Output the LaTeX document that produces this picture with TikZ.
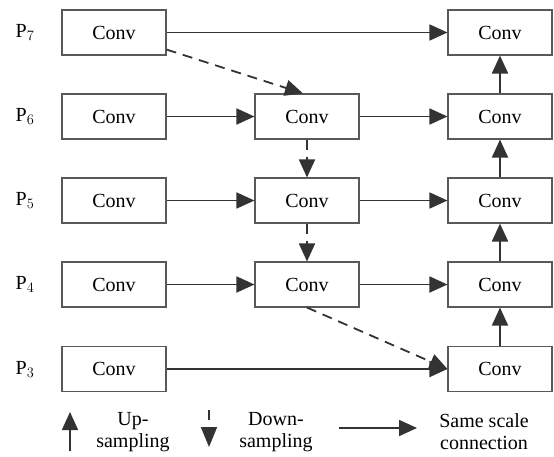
\documentclass[tikz,border=0pt]{standalone}
\usepackage{fontspec}
\setmainfont{Liberation Serif}
\usetikzlibrary{arrows.meta,calc}
\begin{document}
\begin{tikzpicture}[x=1pt,y=-1pt,
  convbox/.style={draw=black!65, line width=1.1pt, minimum width=104pt, minimum height=45pt,
    inner sep=0pt, font=\fontsize{20}{24}\selectfont},
  lvl/.style={font=\fontsize{20}{24}\selectfont, inner sep=0pt},
  flow/.style={line width=1.8pt, draw=black!80, -{Triangle[length=18pt,width=16pt]}},
  sampdash/.style={flow, dash pattern=on 10pt off 7pt},
  legtext/.style={font=\fontsize{20}{22}\selectfont, align=center, inner sep=0pt}
]
\useasboundingbox (0,0) rectangle (554,456);

% level labels
\foreach \k/\y in {7/32.5, 6/116.5, 5/200.5, 4/284.5, 3/369}
  \node[lvl] (p\k) at (25,\y) {P$_{\k}$};

% input convolutions
\foreach \k/\y in {7/32.5, 6/116.5, 5/200.5, 4/284.5, 3/369}
  \node[convbox] (l\k) at (114,\y) {Conv};

% intermediate convolutions
\foreach \k/\y in {6/116.5, 5/200.5, 4/284.5}
  \node[convbox] (m\k) at (307,\y) {Conv};

% output convolutions
\foreach \k/\y in {7/32.5, 6/116.5, 5/200.5, 4/284.5, 3/369}
  \node[convbox] (r\k) at (500,\y) {Conv};

% same scale connections
\draw[flow] (l7) -- (r7);
\draw[flow] (l3) -- (r3);
\foreach \k in {6,5,4} {
  \draw[flow] (l\k) -- (m\k);
  \draw[flow] (m\k) -- (r\k);
}

% up-sampling path
\draw[flow] (r3) -- (r4);
\draw[flow] (r4) -- (r5);
\draw[flow] (r5) -- (r6);
\draw[flow] (r6) -- (r7);

% down-sampling path
\coordinate (d7) at ([yshift=6pt]l7.south east);
\coordinate (t6) at ([xshift=-4pt]m6.north);
\draw[sampdash] (d7) -- (t6);
\draw[sampdash] (m6) -- (m5);
\draw[sampdash] (m5) -- (m4);
\draw[sampdash] (m4.south) -- (r3.west);

% legend
\coordinate (ua) at (70,451);
\coordinate (ub) at (70,412);
\draw[flow] (ua) -- (ub);
\node[legtext] (lup) at (133,432) {Up-\\sampling};

\coordinate (da) at (209,410);
\coordinate (db) at (209,447);
\draw[sampdash, -{Triangle[length=20pt,width=16pt]}] (da) -- (db);
\node[legtext] (ldown) at (276,432) {Down-\\sampling};

\coordinate (sa) at (339,428);
\coordinate (sb) at (417,428);
\draw[flow] (sa) -- (sb);
\node[legtext] (lsame) at (484,432) {Same scale\\connection};
\end{tikzpicture}
\end{document}
